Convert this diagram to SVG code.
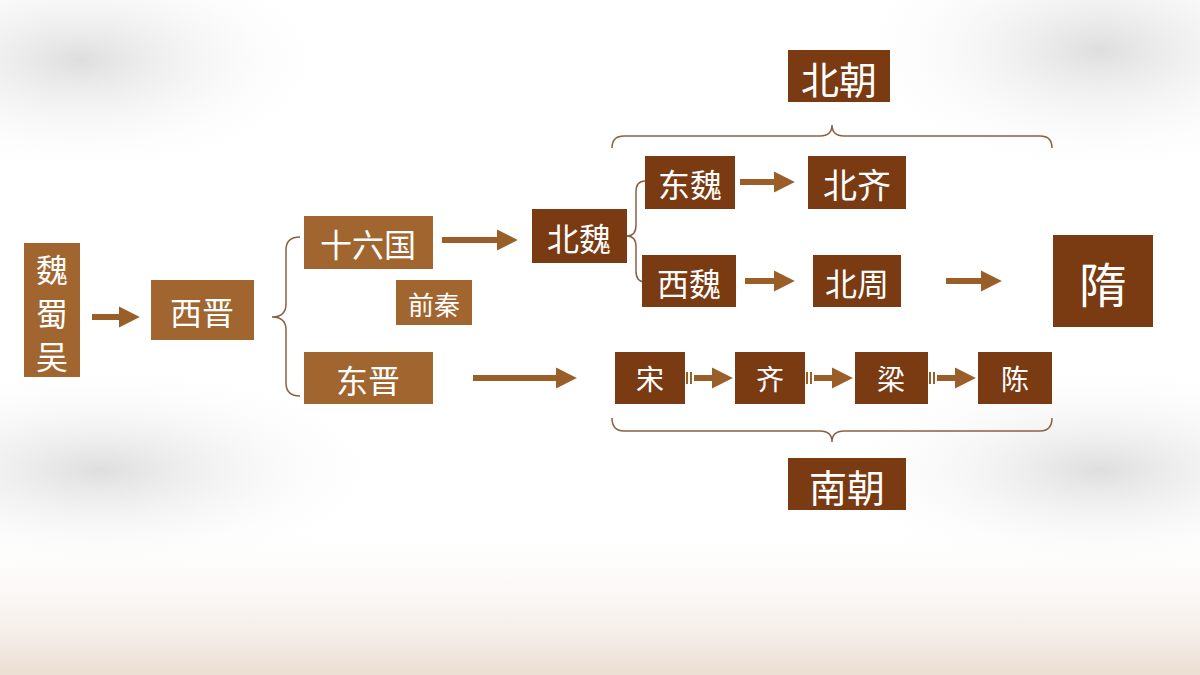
<svg xmlns="http://www.w3.org/2000/svg" width="1200" height="675" viewBox="0 0 1200 675">
<defs>
<radialGradient id="c1" cx="0.5" cy="0.5" r="0.5"><stop offset="0" stop-color="#c8c8c8" stop-opacity="0.6"/><stop offset="1" stop-color="#ffffff" stop-opacity="0"/></radialGradient>
<linearGradient id="bot" x1="0" y1="0" x2="0" y2="1"><stop offset="0" stop-color="#fff" stop-opacity="0"/><stop offset="1" stop-color="#e6d6c8" stop-opacity="0.8"/></linearGradient>
<marker id="ah" viewBox="0 0 10 10" refX="2" refY="5" markerWidth="3.5" markerHeight="4" orient="auto" markerUnits="strokeWidth"><path d="M0,0 L10,5 L0,10 Z" fill="#9a5e28"/></marker>
</defs>
<style>
.l{fill:#a1652f}.d{fill:#7a3a12}
text{fill:#fff;font-family:"Noto Sans CJK SC",sans-serif;text-anchor:middle;dominant-baseline:central}
.a{stroke:#9a5e28;stroke-width:6;fill:none;marker-end:url(#ah)}
.s{fill:#9a5e28}
.b{stroke:#8a6040;stroke-width:1.5;fill:none}
</style>
<rect width="1200" height="675" fill="#fff"/>
<ellipse cx="80" cy="60" rx="260" ry="120" fill="url(#c1)"/>
<ellipse cx="1100" cy="50" rx="260" ry="130" fill="url(#c1)"/>
<ellipse cx="100" cy="470" rx="300" ry="110" fill="url(#c1)"/>
<ellipse cx="1100" cy="470" rx="280" ry="110" fill="url(#c1)"/>
<rect y="520" width="1200" height="155" fill="url(#bot)"/>
<g id="connectors">
<line class="a" x1="92" y1="317" x2="123" y2="317"/>
<line class="a" x1="442" y1="240" x2="501" y2="240"/>
<line class="a" x1="473" y1="378" x2="560" y2="378"/>
<line class="a" x1="740" y1="182" x2="778" y2="182"/>
<line class="a" x1="745" y1="281" x2="778" y2="281"/>
<line class="a" x1="946" y1="281" x2="985" y2="281"/>
<g class="s"><rect x="686" y="372" width="2" height="12"/><rect x="690" y="372" width="2" height="12"/><rect x="806" y="372" width="2" height="12"/><rect x="810" y="372" width="2" height="12"/><rect x="929" y="372" width="2" height="12"/><rect x="933" y="372" width="2" height="12"/></g>
<line class="a" x1="694" y1="378" x2="716" y2="378"/>
<line class="a" x1="814" y1="378" x2="836" y2="378"/>
<line class="a" x1="937" y1="378" x2="959" y2="378"/>
<path class="b" d="M300,237 Q286,237 286,250 L286,304 Q286,317 272,317 Q286,317 286,330 L286,383 Q286,396 300,396"/>
<path class="b" d="M645,181 Q636,181 636,192 L636,225 Q636,236 627,236 Q636,236 636,247 L636,271 Q636,282 645,282"/>
<path class="b" d="M612,148 Q612,136 624,136 L820,136 Q832,136 832,125 Q832,136 844,136 L1040,136 Q1052,136 1052,148"/>
<path class="b" d="M612,418 Q612,431 624,431 L820,431 Q832,431 832,442 Q832,431 844,431 L1040,431 Q1052,431 1052,418"/>
</g>
<g id="weishuwu"><rect class="l" x="24" y="243" width="56" height="134"/><text x="52" y="268" font-size="32">魏</text><text x="52" y="312" font-size="32">蜀</text><text x="52" y="355" font-size="32">吴</text></g>
<g id="xijin"><rect class="l" x="151" y="280" width="103" height="60"/><text x="202" y="311" font-size="32">西晋</text></g>
<g id="shiliuguo"><rect class="l" x="304" y="216" width="129" height="53"/><text x="368" y="243" font-size="32">十六国</text></g>
<g id="qianqin"><rect class="l" x="396" y="280" width="76" height="45"/><text x="434" y="303" font-size="26">前秦</text></g>
<g id="dongjin"><rect class="l" x="304" y="352" width="129" height="52"/><text x="368" y="379" font-size="32">东晋</text></g>
<g id="beiwei"><rect class="d" x="532" y="209" width="95" height="54"/><text x="579" y="237" font-size="32">北魏</text></g>
<g id="dongwei"><rect class="d" x="645" y="156" width="90" height="53"/><text x="690" y="183" font-size="32">东魏</text></g>
<g id="beiqi"><rect class="d" x="808" y="156" width="98" height="53"/><text x="857" y="183" font-size="34">北齐</text></g>
<g id="xiwei"><rect class="d" x="642" y="255" width="94" height="52"/><text x="689" y="282" font-size="32">西魏</text></g>
<g id="beizhou"><rect class="d" x="813" y="255" width="88" height="52"/><text x="857" y="282" font-size="32">北周</text></g>
<g id="sui"><rect class="d" x="1053" y="235" width="100" height="92"/><text x="1103" y="282" font-size="48">隋</text></g>
<g id="song"><rect class="d" x="615" y="352" width="70" height="52"/><text x="650" y="378" font-size="28">宋</text></g>
<g id="qi"><rect class="d" x="735" y="352" width="70" height="52"/><text x="770" y="378" font-size="28">齐</text></g>
<g id="liang"><rect class="d" x="855" y="352" width="73" height="52"/><text x="891" y="378" font-size="28">梁</text></g>
<g id="chen"><rect class="d" x="978" y="352" width="74" height="52"/><text x="1015" y="378" font-size="28">陈</text></g>
<g id="beichao"><rect class="d" x="788" y="50" width="102" height="52"/><text x="839" y="77" font-size="38">北朝</text></g>
<g id="nanchao"><rect class="d" x="788" y="458" width="118" height="52"/><text x="847" y="485" font-size="38">南朝</text></g>
</svg>
